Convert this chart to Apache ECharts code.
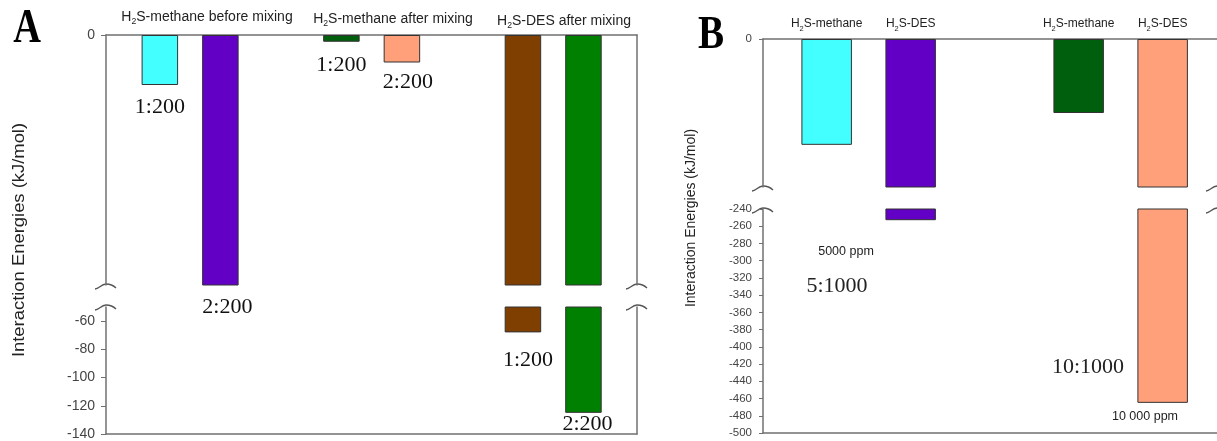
<!DOCTYPE html>
<html>
<head>
<meta charset="utf-8">
<script src="https://cdn.jsdelivr.net/npm/echarts@6/dist/echarts.min.js"></script>
<style>
  html, body { margin: 0; padding: 0; background: #fff; }
  #chart { width: 1217px; height: 441px; }
</style>
</head>
<body>
<div id="chart"></div>
<script>
// panel A (1:200 systems)
const groupsA = ['S-methane before mixing', 'S-methane after mixing', 'S-DES after mixing'];
const slotsA = [1, 2, 4, 5, 7, 8];
const ratiosA = ['1:200', '2:200', '1:200', '2:200', '1:200', '2:200'];
const energiesA = [-2, -30, -0.27, -1.1, -68, -125];
const ticksA = [-60, -80, -100, -120, -140];

// panel B (5:1000 / 10:1000 systems)
const namesB = ['S-methane', 'S-DES', 'S-methane', 'S-DES'];
const slotsB = [1, 2, 4, 5];
const energiesB = [-123, -253, -86, -465];
const ppmB = ['5000 ppm', '10 000 ppm'];
const ratiosB = ['5:1000', '10:1000'];

const colorsA = ['#44ffff', '#6300c6', '#005f0c', '#ffa07a', '#7f3f00', '#008000'];
const colorsB = ['#44ffff', '#6300c6', '#005f0c', '#ffa07a'];

// label tweaks for panel A ([dx, gap below bar end])
const labelPosA = [[0, 11], [7, 11], [0, 12], [6, 8.5], [5, 17], [4, 0]];

const sans = 'Liberation Sans';
const serif = 'Liberation Serif';
const axisColor = '#707070';

// axis ranges of the four broken sections
const upperA = [-10, 0], lowerA = [-140, -50];
const upperB = [-172, 0], lowerB = [-500, -240];

let chart = echarts.init(document.getElementById('chart'));

// H2S with a real subscript 2
const h2s = s => '{n|H}{s|2}{n|' + s + '}';
function h2sRich(size) {
  return {
    n: { fontSize: size, fontFamily: sans, fill: '#222', color: '#222', lineHeight: size + 5, verticalAlign: 'middle' },
    s: { fontSize: size * 0.62, fontFamily: sans, fill: '#222', color: '#222', lineHeight: size * 0.62, verticalAlign: 'bottom' }
  };
}

function xAxis(grid, pos, min, max, extra) {
  return Object.assign({
    gridIndex: grid, type: 'value', position: pos, min: min, max: max,
    axisLine: { show: true, onZero: false, lineStyle: { color: axisColor, width: 1.5 } },
    axisTick: { show: false }, axisLabel: { show: false }, splitLine: { show: false }
  }, extra || {});
}

function yAxis(grid, pos, range, extra) {
  return Object.assign({
    gridIndex: grid, type: 'value', position: pos, min: range[0], max: range[1],
    axisLine: { show: true, onZero: false, lineStyle: { color: axisColor, width: 1.5 } },
    axisTick: { show: false }, axisLabel: { show: false }, splitLine: { show: false }
  }, extra || {});
}

function bars(xi, yi, slots, vals, colors, width, labelFor) {
  return {
    type: 'bar', xAxisIndex: xi, yAxisIndex: yi, barWidth: width, clip: true,
    silent: true, animation: false,
    itemStyle: { borderColor: '#333', borderWidth: 1 },
    data: slots.map((s, i) => ({
      value: [s, vals[i]],
      itemStyle: { color: colors[i] },
      label: labelFor ? labelFor(i) : { show: false }
    }))
  };
}

function ratioLabel(i, show) {
  return {
    show: show, position: 'bottom', distance: labelPosA[i][1], offset: [labelPosA[i][0], 0],
    formatter: ratiosA[i], fontFamily: serif, fontSize: 22, color: '#111'
  };
}

// little "~" break marks on the broken axes
function breakMark(cx, cy) {
  const st = { stroke: '#555', lineWidth: 1.3, fill: null };
  return [
    { type: 'bezierCurve', shape: { x1: cx - 11, y1: cy + 4, cpx1: cx - 7, cpy1: cy + 4, cpx2: cx - 5, cpy2: cy - 1, x2: cx, y2: cy - 1 }, style: st },
    { type: 'bezierCurve', shape: { x1: cx, y1: cy - 1, cpx1: cx + 4, cpy1: cy - 1, cpx2: cx + 8, cpy2: cy + 1, x2: cx + 10, y2: cy + 3 }, style: st }
  ];
}

function txt(text, x, y, size, family, extra) {
  return Object.assign({
    type: 'text', x: x, y: y, silent: true,
    style: { text: text, fontSize: size, fontFamily: family, fill: '#222', align: 'center', verticalAlign: 'middle' }
  }, extra || {});
}

function headA(i, x, y) {
  return {
    type: 'text', x: x, y: y, silent: true,
    style: { text: h2s(groupsA[i]), rich: h2sRich(14), align: 'center', verticalAlign: 'middle' }
  };
}

function letter(t, x, y, size, sx) {
  return {
    type: 'text', x: x, y: y, scaleX: sx, silent: true,
    style: { text: t, fontSize: size, fontFamily: serif, fontWeight: 'bold', fill: '#000', align: 'center', verticalAlign: 'middle' }
  };
}

const tickLabelA = { show: true, fontFamily: sans, fontSize: 14, color: '#444', margin: 11 };
const tickLabelB = { show: true, fontFamily: sans, fontSize: 11.5, color: '#444', margin: 11 };

let graphics = [
  letter('A', 27, 30, 48, 0.8),
  letter('B', 711, 36, 46, 0.85),
  headA(0, 207, 17),
  headA(1, 393, 19),
  headA(2, 564, 21),
  txt('Interaction Energies (kJ/mol)', 20, 240, 16, sans, { rotation: Math.PI / 2, scaleX: 1.15 }),
  txt('Interaction Energies (kJ/mol)', 691, 218, 14, sans, { rotation: Math.PI / 2 }),
  txt(ppmB[0], 846, 252, 12.5, sans),
  txt(ratiosB[0], 837, 286, 22, serif),
  txt(ratiosB[1], 1088, 367, 22, serif),
  txt(ppmB[1], 1145, 417, 12.5, sans)
];
graphics = graphics
  .concat(breakMark(106, 285), breakMark(106, 306), breakMark(637, 285), breakMark(637, 306))
  .concat(breakMark(763, 187), breakMark(763, 209), breakMark(1217, 187), breakMark(1217, 209));

const option = {
  backgroundColor: '#fff',
  animation: false,
  grid: [
    { left: 106, top: 35, width: 531, height: 250 },
    { left: 106, top: 307, width: 531, height: 130 },
    { left: 763, top: 39, width: 454, height: 148 },
    { left: 763, top: 209, width: 454, height: 224 }
  ],
  xAxis: [
    xAxis(0, 'top', 0.11, 8.885),
    xAxis(1, 'bottom', 0.11, 8.885),
    xAxis(2, 'top', 0.242, 5.647, {
      axisLabel: {
        show: true, customValues: slotsB, margin: 7, rich: h2sRich(12),
        formatter: v => h2s(namesB[slotsB.indexOf(v)])
      }
    }),
    xAxis(3, 'bottom', 0.242, 5.647)
  ],
  yAxis: [
    yAxis(0, 'left', upperA, {
      axisTick: { show: true, length: 5, customValues: [0], lineStyle: { color: axisColor } },
      axisLabel: Object.assign({ customValues: [0] }, tickLabelA)
    }),
    yAxis(1, 'left', lowerA, {
      axisTick: { show: true, length: 5, customValues: ticksA, lineStyle: { color: axisColor } },
      axisLabel: Object.assign({ customValues: ticksA }, tickLabelA)
    }),
    yAxis(2, 'left', upperB, {
      axisTick: { show: true, length: 4, customValues: [0], lineStyle: { color: axisColor } },
      axisLabel: Object.assign({ customValues: [0] }, tickLabelB)
    }),
    yAxis(3, 'left', lowerB, {
      interval: 20,
      axisTick: { show: true, length: 4, lineStyle: { color: axisColor } },
      axisLabel: tickLabelB
    }),
    yAxis(0, 'right', upperA),
    yAxis(1, 'right', lowerA),
    yAxis(2, 'right', upperB, { axisLine: { show: false } }),
    yAxis(3, 'right', lowerB, { axisLine: { show: false } })
  ],
  series: [
    bars(0, 0, slotsA, energiesA, colorsA, 36.5, i => ratioLabel(i, energiesA[i] > lowerA[1])),
    bars(1, 1, slotsA, energiesA, colorsA, 36.5, i => ratioLabel(i, energiesA[i] <= lowerA[1])),
    bars(2, 2, slotsB, energiesB, colorsB, 50.5),
    bars(3, 3, slotsB, energiesB, colorsB, 50.5)
  ],
  graphic: graphics
};

chart.setOption(option);
</script>
</body>
</html>
